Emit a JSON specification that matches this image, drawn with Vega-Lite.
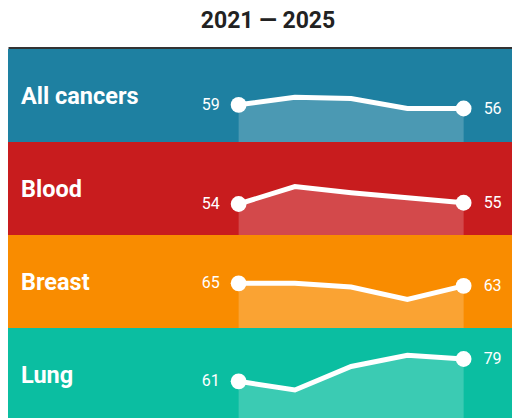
{
  "$schema": "https://vega.github.io/schema/vega-lite/v6.json",
  "padding": {"left": 8, "top": 10, "right": 0, "bottom": 0},
  "background": "white",
  "title": {"text": "2021 — 2025", "font": "Roboto", "fontSize": 23, "fontWeight": "bold", "color": "#222222", "anchor": "middle", "dx": 8, "offset": 16},
  "data": {"values": [
    {"cancer": "All cancers", "year": 2021, "value": 59},
    {"cancer": "All cancers", "year": 2022, "value": 65},
    {"cancer": "All cancers", "year": 2023, "value": 64},
    {"cancer": "All cancers", "year": 2024, "value": 56},
    {"cancer": "All cancers", "year": 2025, "value": 56},
    {"cancer": "Blood", "year": 2021, "value": 54},
    {"cancer": "Blood", "year": 2022, "value": 68},
    {"cancer": "Blood", "year": 2023, "value": 63},
    {"cancer": "Blood", "year": 2024, "value": 59},
    {"cancer": "Blood", "year": 2025, "value": 55},
    {"cancer": "Breast", "year": 2021, "value": 65},
    {"cancer": "Breast", "year": 2022, "value": 65},
    {"cancer": "Breast", "year": 2023, "value": 62},
    {"cancer": "Breast", "year": 2024, "value": 52},
    {"cancer": "Breast", "year": 2025, "value": 63},
    {"cancer": "Lung", "year": 2021, "value": 61},
    {"cancer": "Lung", "year": 2022, "value": 54},
    {"cancer": "Lung", "year": 2023, "value": 73},
    {"cancer": "Lung", "year": 2024, "value": 82},
    {"cancer": "Lung", "year": 2025, "value": 79}
  ]},
  "facet": {"row": {"field": "cancer", "type": "nominal", "sort": ["All cancers", "Blood", "Breast", "Lung"], "title": null, "header": {"title": null, "labels": false}}},
  "spacing": 0,
  "spec": {
    "width": 504,
    "height": 93,
    "encoding": {
      "x": {"field": "year", "type": "quantitative", "scale": {"domain": [2016.9, 2025.86], "nice": false, "zero": false}, "axis": {"orient": "top", "title": null, "labels": false, "ticks": false, "grid": false, "domainColor": "#333333", "domainWidth": 5}},
      "y": {"field": "value", "type": "quantitative", "scale": {"domain": [29, 104], "nice": false, "zero": false}, "axis": null}
    },
    "layer": [
      {"mark": {"type": "rect"}, "encoding": {"x": null, "y": null, "color": {"field": "cancer", "type": "nominal", "scale": {"domain": ["All cancers", "Blood", "Breast", "Lung"], "range": ["#1E80A1", "#C81C1E", "#F98C00", "#0BBEA1"]}, "legend": null}}},
      {"mark": {"type": "area", "color": "white", "opacity": 0.2}, "encoding": {"y2": {"datum": 29}}},
      {"mark": {"type": "line", "color": "white", "strokeWidth": 5}, "encoding": {}},
      {"transform": [{"filter": "datum.year == 2021 || datum.year == 2025"}], "mark": {"type": "circle", "size": 250, "color": "white", "opacity": 1}, "encoding": {}},
      {"transform": [{"filter": "datum.year == 2021"}], "mark": {"type": "text", "align": "right", "baseline": "middle", "dx": -19, "font": "Roboto", "fontSize": 16, "color": "white"}, "encoding": {"text": {"field": "value", "type": "quantitative", "format": "d"}}},
      {"transform": [{"filter": "datum.year == 2025"}], "mark": {"type": "text", "align": "left", "baseline": "middle", "dx": 20, "font": "Roboto", "fontSize": 16, "color": "white"}, "encoding": {"text": {"field": "value", "type": "quantitative", "format": "d"}}},
      {"transform": [{"filter": "datum.year == 2021"}], "mark": {"type": "text", "align": "left", "baseline": "middle", "font": "Roboto", "fontSize": 23.5, "fontWeight": "bold", "color": "white"}, "encoding": {"x": {"datum": 2017.13, "type": "quantitative"}, "y": {"datum": 65.5, "type": "quantitative"}, "text": {"field": "cancer", "type": "nominal"}}}
    ]
  },
  "config": {"view": {"stroke": null}}
}
